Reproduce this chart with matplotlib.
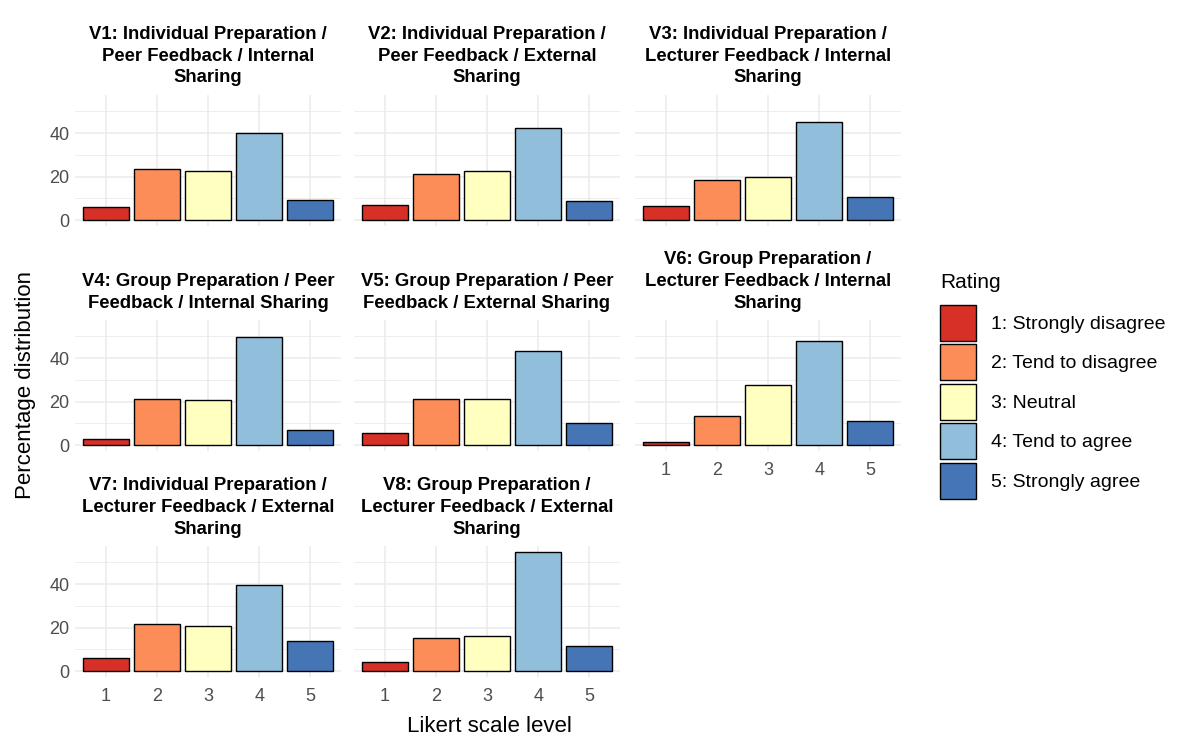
import numpy as np
import matplotlib
matplotlib.use("Agg")
import matplotlib.pyplot as plt
from matplotlib.patches import Patch

plt.rcParams['font.family'] = ['Liberation Sans', 'DejaVu Sans']

levels = [1, 2, 3, 4, 5]
rating_labels = ['1: Strongly disagree', '2: Tend to disagree', '3: Neutral',
                 '4: Tend to agree', '5: Strongly agree']
rating_colors = ['#D73027', '#FC8D59', '#FFFFBF', '#91BFDB', '#4575B4']

titles = [
    'V1: Individual Preparation /\nPeer Feedback / Internal\nSharing',
    'V2: Individual Preparation /\nPeer Feedback / External\nSharing',
    'V3: Individual Preparation /\nLecturer Feedback / Internal\nSharing',
    'V4: Group Preparation / Peer\nFeedback / Internal Sharing',
    'V5: Group Preparation / Peer\nFeedback / External Sharing',
    'V6: Group Preparation /\nLecturer Feedback / Internal\nSharing',
    'V7: Individual Preparation /\nLecturer Feedback / External\nSharing',
    'V8: Group Preparation /\nLecturer Feedback / External\nSharing',
]

v1 = [5.8, 23.4, 22.5, 40.0, 9.2]
v2 = [6.9, 21.1, 22.5, 42.3, 8.6]
v3 = [6.3, 18.3, 20.0, 45.1, 10.7]
v4 = [3.0, 21.3, 20.8, 49.9, 7.1]
v5 = [5.5, 21.3, 21.3, 43.5, 10.0]
v6 = [1.5, 13.4, 27.7, 48.1, 11.0]
v7 = [6.0, 21.8, 20.8, 39.8, 14.0]
v8 = [4.2, 15.1, 16.2, 54.8, 11.5]
series = [v1, v2, v3, v4, v5, v6, v7, v8]

W, H = 1200, 752
fig = plt.figure(figsize=(W / 100, H / 100), dpi=100)

col_left = [75, 354, 635]
panel_w = 266
row_top = [95, 320, 546]
panel_h = 131

ymax = max(max(s) for s in series)
ylim = (-0.05 * ymax, 1.05 * ymax)
grid_col = '#EBEBEB'

for i, (title, vals) in enumerate(zip(titles, series)):
    r, c = divmod(i, 3)
    left = col_left[c] / W
    bottom = 1 - (row_top[r] + panel_h) / H
    ax = fig.add_axes([left, bottom, panel_w / W, panel_h / H])
    ax.bar(levels, vals, width=0.9, color=rating_colors, edgecolor='black',
           linewidth=1.0, zorder=3)
    ax.set_xlim(0.4, 5.6)
    ax.set_ylim(*ylim)
    ax.set_xticks(levels)
    ax.set_yticks([0, 20, 40])
    ax.set_yticks([10, 30, 50], minor=True)
    ax.grid(True, which='major', color=grid_col, linewidth=1.1, zorder=0)
    ax.grid(True, which='minor', axis='y', color=grid_col, linewidth=0.6, zorder=0)
    for s in ax.spines.values():
        s.set_visible(False)
    ax.tick_params(which='both', length=0, labelsize=13, labelcolor='#4D4D4D')
    ax.tick_params(axis='x', pad=8)
    ax.tick_params(axis='y', pad=4)
    show_x = (r == 2) or (r == 1 and c == 2)
    if not show_x:
        ax.set_xticklabels([])
    if c != 0:
        ax.set_yticklabels([])
    ax.set_title(title, fontsize=13.3, fontweight='bold', pad=9, linespacing=1.38)

fig.text(26 / W, 1 - 385 / H, 'Percentage distribution', rotation=90,
         ha='center', va='center', fontsize=16)
fig.text(489 / W, 1 - 726 / H, 'Likert scale level', ha='center', va='center',
         fontsize=16)

# legend title drawn separately so the key block can sit on its own
fig.text(940 / W, 1 - 283 / H, 'Rating', ha='left', va='center', fontsize=15)
handles = [Patch(facecolor=col, edgecolor='black', linewidth=1.0) for col in rating_colors]
leg = fig.legend(handles, rating_labels, loc='upper left',
                 bbox_to_anchor=(940 / W, 1 - 305 / H), frameon=False,
                 fontsize=14, handlelength=1.85, handleheight=2.47,
                 handletextpad=0.75, labelspacing=0.18, borderaxespad=0,
                 borderpad=0)

fig.savefig('out.png', dpi=100)
